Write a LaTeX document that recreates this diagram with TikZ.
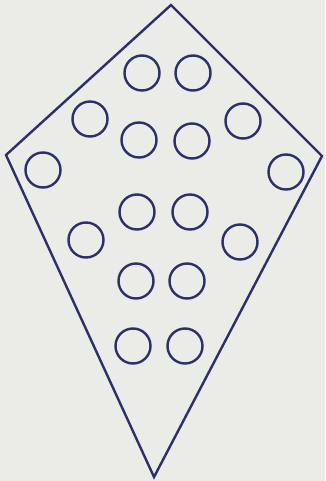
\documentclass[tikz,border=0pt]{standalone}
\begin{document}
\begin{tikzpicture}[x=1pt,y=-1pt,
  ink/.style={draw=inkc, line width=2.4pt},
  ring/.style={ink, circle, minimum size=35pt, inner sep=0pt}]
\definecolor{inkc}{HTML}{2C2F6C}
\definecolor{paper}{HTML}{EBEBE8}
\fill[paper] (0,0) rectangle (325,481);
\useasboundingbox (0,0) rectangle (325,481);
\coordinate (T) at (171,5);
\coordinate (L) at (6,155);
\coordinate (B) at (154,477);
\coordinate (R) at (322,156);
\draw[ink, line join=miter] (T) -- (R) -- (B) -- (L) -- cycle;
\node[ring] (c1) at (142,73) {};
\node[ring] (c2) at (193,73) {};
\node[ring] (c3) at (90,119) {};
\node[ring] (c4) at (243,121) {};
\node[ring] (c5) at (139,140) {};
\node[ring] (c6) at (192,141) {};
\node[ring] (c7) at (43,170) {};
\node[ring] (c8) at (286,172) {};
\node[ring] (c9) at (137,212) {};
\node[ring] (c10) at (190,212) {};
\node[ring] (c11) at (86,240) {};
\node[ring] (c12) at (240,242) {};
\node[ring] (c13) at (136,281) {};
\node[ring] (c14) at (187,281) {};
\node[ring] (c15) at (133,346) {};
\node[ring] (c16) at (185,346) {};
\end{tikzpicture}
\end{document}
